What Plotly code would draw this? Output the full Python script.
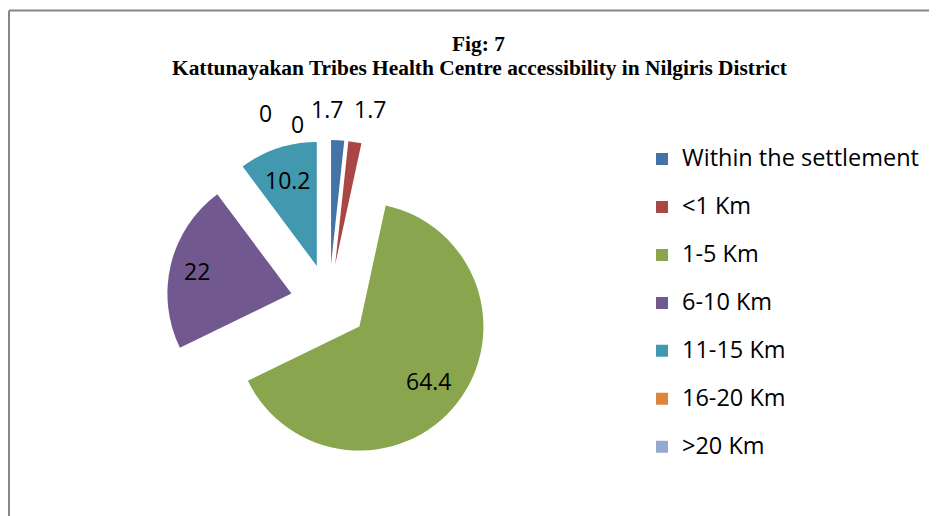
import math
import plotly.graph_objects as go

categories = ["Within the settlement", "<1 Km", "1-5 Km", "6-10 Km", "11-15 Km", "16-20 Km", ">20 Km"]
values = [1.7, 1.7, 64.4, 22, 10.2, 0, 0]
colors = ["#4572A7", "#AA4643", "#89A54E", "#71588F", "#4198AF", "#DB843D", "#93A9CF"]
title_line1 = "Fig: 7"
title_line2 = "Kattunayakan Tribes Health Centre accessibility in Nilgiris District"

# page body has an 8px margin: the figure fills the rest of the 937x516 window
OFF = 8
W, H = 937 - OFF, 516 - OFF


def px(x):
    return (x - OFF) / W


def py(y):
    return 1 - (y - OFF) / H


# pie geometry (window pixels)
cx, cy = 329, 302.7
pull = 0.312
r = 124
half = r * (1 + pull)
LABEL_FONT = dict(family="Open Sans", size=23, color="#000000")

legend_labels = [f"<span style='font-size:23.5px'>{c}</span><br> " for c in categories]

fig = go.Figure(go.Pie(
    labels=legend_labels,
    values=values,
    textinfo="none",
    marker=dict(colors=colors, line=dict(width=0)),
    sort=False,
    direction="clockwise",
    rotation=0,
    pull=[pull] * len(values),
    hoverinfo="skip",
    domain=dict(x=[px(cx - half), px(cx + half)],
                y=[py(cy + half), py(cy - half)]),
))

# data labels: big slices along their mid-angle, small/zero slices above the pie
total = sum(values)
annotations = []
outside_pos = {0: (327, 109), 1: (370, 109), 5: (297, 124), 6: (265.5, 113.5)}
inside_frac = {2: 0.71, 3: 0.78, 4: 0.73}
cum = 0.0
for i, v in enumerate(values):
    a0 = cum / total * 2 * math.pi
    cum += v
    a1 = cum / total * 2 * math.pi
    mid = (a0 + a1) / 2
    dx, dy = math.sin(mid), -math.cos(mid)
    if i in outside_pos:
        lx, ly = outside_pos[i]
    else:
        k = pull + inside_frac[i]
        lx, ly = cx + k * r * dx, cy + k * r * dy
    annotations.append(dict(text=f"{v:g}", x=px(lx), y=py(ly), xref="paper", yref="paper",
                            xanchor="center", yanchor="middle", showarrow=False, font=LABEL_FONT))

TITLE_FONT = dict(family="Liberation Serif", size=21.4, color="#000000")
annotations += [
    dict(text=f"<b>{title_line1}</b>", x=px(478.5), y=py(44.5), xref="paper", yref="paper",
         xanchor="center", yanchor="middle", showarrow=False, font=TITLE_FONT),
    dict(text=f"<b>{title_line2}</b>", x=px(479.5), y=py(68), xref="paper", yref="paper",
         xanchor="center", yanchor="middle", showarrow=False, font=TITLE_FONT),
]

fig.update_layout(
    width=W, height=H,
    margin=dict(l=0, r=0, t=0, b=0),
    paper_bgcolor="white",
    plot_bgcolor="white",
    showlegend=True,
    legend=dict(
        x=px(642), xanchor="left",
        y=py(141.3), yanchor="top",
        font=dict(family="Open Sans", size=17.29, color="#000000"),
        valign="top",
        bgcolor="rgba(0,0,0,0)",
    ),
    annotations=annotations,
    shapes=[
        dict(type="line", xref="paper", yref="paper", x0=px(9), x1=1.05, y0=py(10.5), y1=py(10.5),
             line=dict(color="#868686", width=2)),
        dict(type="line", xref="paper", yref="paper", x0=px(9), x1=px(9), y0=py(10.5), y1=-0.05,
             line=dict(color="#868686", width=2)),
    ],
)

fig.write_html("out.html")
